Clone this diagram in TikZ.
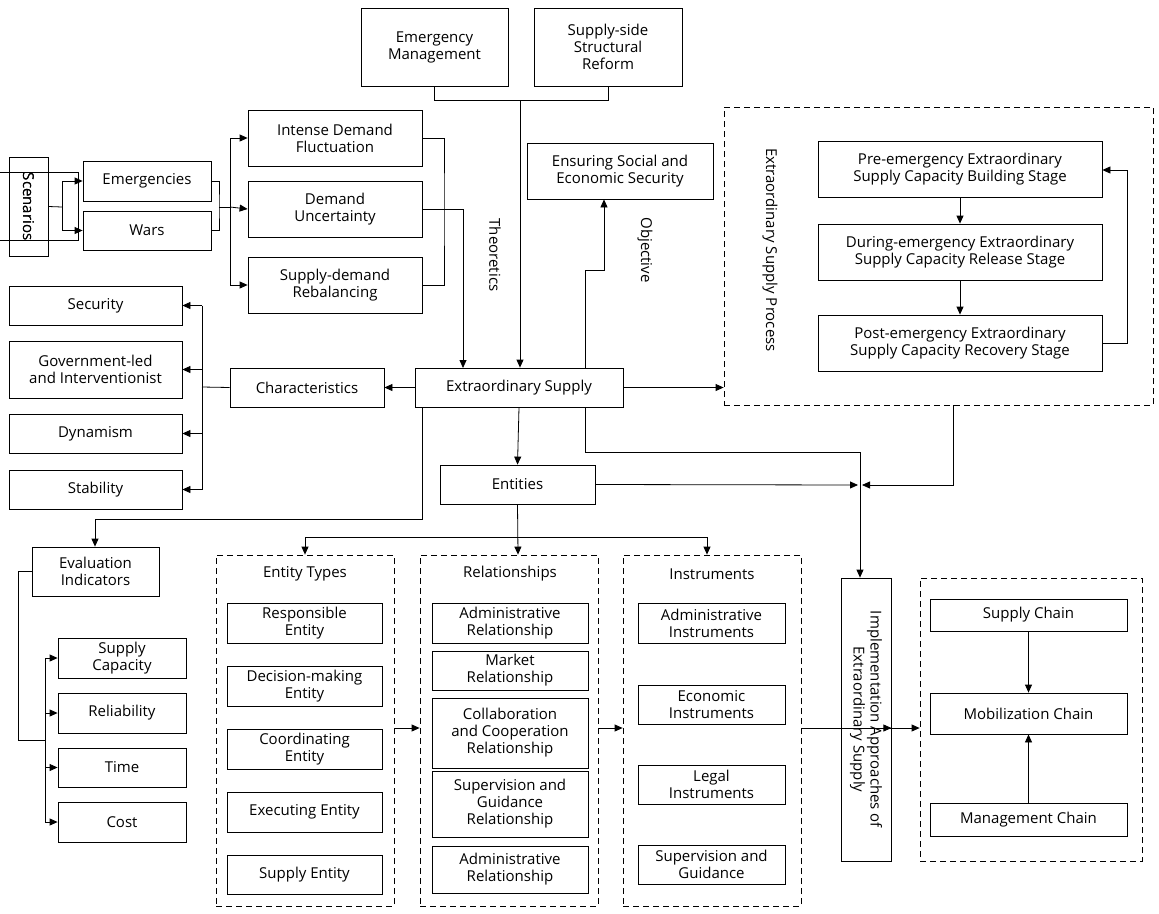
\documentclass[tikz,border=0pt]{standalone}
\usepackage{fontspec}
\setmainfont{Open Sans}
\usetikzlibrary{arrows.meta}
\begin{document}
\begin{tikzpicture}[x=1pt,y=-1pt,
  box/.style={draw,thick,inner sep=0pt,align=center,font=\fontsize{15}{17}\selectfont},
  dbox/.style={draw,thick,dashed,dash pattern=on 6pt off 4pt,inner sep=0pt},
  lab/.style={inner sep=0pt,font=\fontsize{15}{17}\selectfont,align=center},
  arr/.style={thick,-{Triangle[length=8pt,width=7pt]}},
  ln/.style={thick}]
\useasboundingbox (0,0) rectangle (1159,913);
\newcommand\bx[7][]{\node[box,#1,minimum width={(#5-#3)*1pt},minimum height={(#6-#4)*1pt}] (#2) at ({(#3+#5)/2},{(#4+#6)/2}) {#7};}
\newcommand\dbx[5]{\node[dbox,minimum width={(#4-#2)*1pt},minimum height={(#5-#3)*1pt}] (#1) at ({(#2+#4)/2},{(#3+#5)/2}) {};}
% top
\bx{EM}{361}{8}{508}{86}{Emergency\\Management}
\bx{SSR}{534}{8}{682}{86}{Supply-side\\Structural\\Reform}
\bx[rotate=-90]{SC}{9}{157}{48}{256}{Scenarios}
\node[box,rotate=-90,minimum width=99pt,minimum height=39pt] (SC) at (28.5,206.5) {Scenarios};
\bx{EMG}{83}{161}{211}{201}{Emergencies}
\bx{WAR}{83}{211}{211}{250}{Wars}
\bx{IDF}{248}{110}{422}{166}{Intense Demand\\Fluctuation}
\bx{DU}{248}{181}{422}{237}{Demand\\Uncertainty}
\bx{SDR}{248}{257}{422}{313}{Supply-demand\\Rebalancing}
\bx{ENS}{527}{143}{713}{199}{Ensuring Social and\\Economic Security}
\bx{ES}{415}{368}{623}{407}{Extraordinary Supply}
\bx{CH}{230}{368}{384}{407}{Characteristics}
\bx{SEC}{9}{286}{182}{325}{Security}
\bx{GOV}{9}{341}{182}{398}{Government-led\\and Interventionist}
\bx{DYN}{9}{414}{182}{453}{Dynamism}
\bx{STA}{9}{470}{182}{509}{Stability}
% process
\dbx{PROC}{724}{107}{1153}{405}
\node[lab,rotate=-90] (PL) at (770,250) {Extraordinary Supply Process};
\bx{PRE}{818}{141}{1102}{197}{Pre-emergency Extraordinary\\Supply Capacity Building Stage}
\bx{DUR}{818}{224}{1102}{280}{During-emergency Extraordinary\\Supply Capacity Release Stage}
\bx{POST}{818}{315}{1102}{371}{Post-emergency Extraordinary\\Supply Capacity Recovery Stage}
\bx{ENT}{440}{465}{595}{504}{Entities}
\bx{EVI}{32}{547}{159}{596}{Evaluation\\Indicators}
\bx{SCAP}{58}{638}{186}{678}{Supply\\Capacity}
\bx{REL}{58}{693}{186}{733}{Reliability}
\bx{TIM}{58}{748}{186}{787}{Time}
\bx{COS}{58}{802}{186}{842}{Cost}
% entity types
\dbx{ETB}{216}{555}{394}{906}
\node[lab] at (305,574) {Entity Types};
\bx{E1}{227}{603}{382}{643}{Responsible\\Entity}
\bx{E2}{227}{666}{382}{706}{Decision-making\\Entity}
\bx{E3}{227}{729}{382}{769}{Coordinating\\Entity}
\bx{E4}{227}{792}{382}{832}{Executing Entity}
\bx{E5}{227}{855}{382}{894}{Supply Entity}
\dbx{RLB}{420}{555}{598}{906}
\node[lab] at (510,574) {Relationships};
\bx{R1}{432}{603}{588}{643}{Administrative\\Relationship}
\bx{R2}{432}{651}{588}{690}{Market\\Relationship}
\bx{R3}{432}{698}{588}{768}{Collaboration\\and Cooperation\\Relationship}
\bx{R4}{432}{771}{588}{837}{Supervision and\\Guidance\\Relationship}
\bx{R5}{432}{846}{588}{893}{Administrative\\Relationship}
\dbx{INB}{623}{555}{801}{906}
\node[lab] at (712,574) {Instruments};
\bx{I1}{638}{603}{785}{643}{Administrative\\Instruments}
\bx{I2}{638}{685}{785}{724}{Economic\\Instruments}
\bx{I3}{638}{765}{785}{804}{Legal\\Instruments}
\bx{I4}{638}{845}{785}{884}{Supervision and\\Guidance}
\node[box,rotate=-90,minimum width=283pt,minimum height=50pt] (IMP) at (866,719.5) {Implementation Approaches of\\Extraordinary Supply};
\dbx{CHB}{920}{578}{1142}{861}
\bx{SCH}{930}{599}{1127}{631}{Supply Chain}
\bx{MOB}{930}{693}{1127}{734}{Mobilization Chain}
\bx{MAN}{930}{803}{1127}{836}{Management Chain}
% connectors
\coordinate (a1) at (62,207);
\draw[ln] (SC.north) -- (a1);
\draw[arr] (a1) |- (EMG.west);
\draw[arr] (a1) |- (WAR.west);
\coordinate (b1) at (219,207);
\draw[ln] (EMG.east) -| (b1) |- (WAR.east);
\coordinate (b2) at (230,207);
\draw[ln] (b1) -- (b2);
\draw[arr] (b2) |- (IDF.west);
\draw[arr] (b2) -- (DU.west);
\draw[arr] (b2) |- (SDR.west);
\coordinate (c1) at (444,207);
\draw[ln] (IDF.east) -| (c1) |- (SDR.east);
\coordinate (c2) at (463,368);
\draw[arr] (DU.east) -| (c2);
\coordinate (d1) at (434,100); \coordinate (d2) at (608,100); \coordinate (d3) at (520,100);
\draw[ln] (EM.south -| d1) |- (d2) -- (SSR.south -| d2);
\draw[arr] (d3) -- (ES.north -| d3);
\node[lab,rotate=-90] (TH) at (495,255) {Theoretics};
\coordinate (e1) at (585,270); \coordinate (e2) at (604,270);
\draw[arr] (ES.north -| e1) -- (e1) -- (e2) -- (ENS.south -| e2);
\node[lab,rotate=-90] (OB) at (645,250) {Objective};
\draw[arr] (ES.east) -- (ES.east -| PROC.west);
\draw[arr] (ES.west) -- (CH.east);
\coordinate (f1) at (202,387);
\draw[ln] (CH.west) -- (f1);
\draw[ln] (SEC.east -| f1) -- (STA.east -| f1);
\foreach \n in {SEC,GOV,DYN,STA} \draw[arr] (\n.east -| f1) -- (\n.east);
\draw[arr] (ES.south) -- (ENT.north);
\draw[arr] (PRE.south) -- (DUR.north);
\draw[arr] (DUR.south) -- (POST.north);
\coordinate (g1) at (1127,170);
\draw[arr] (POST.east) -| (g1) -- (PRE.east |- g1);
\coordinate (h1) at (585,452); \coordinate (h2) at (860,452);
\draw[arr] (ES.south -| h1) -- (h1) -- (h2) -- (IMP.west -| h2);
\coordinate (h3) at (858,485); \coordinate (h4) at (862,485); \coordinate (h5) at (953,485);
\draw[arr] (ENT.east) -- (h3);
\draw[arr] (PROC.south -| h5) -- (h5) -- (h4);
\coordinate (k1) at (422,519); \coordinate (k2) at (95,519);
\draw[arr] (ES.south -| k1) -- (k1) -- (k2) -- (EVI.north -| k2);
\coordinate (m1) at (518,537); \coordinate (m2) at (305,537); \coordinate (m3) at (707,537);
\draw[arr] (ENT.south) -- (ETB.north -| m1);
\draw[arr] (m2) -- (m3) -- (INB.north -| m3);
\draw[arr] (m1) -- (m2) -- (ETB.north -| m2);
\coordinate (n1) at (18,740); \coordinate (n2) at (45,740);
\draw[ln] (EVI.west) -| (n1) -- (n2);
\draw[ln] (SCAP.west -| n2) -- (COS.west -| n2);
\foreach \n in {SCAP,REL,TIM,COS} \draw[arr] (\n.west -| n2) -- (\n.west);
\coordinate (p1) at (0,728);
\draw[arr] (ETB.east |- p1) -- (RLB.west |- p1);
\draw[arr] (RLB.east |- p1) -- (INB.west |- p1);
\draw[arr] (INB.east |- p1) -- (IMP.north |- p1);
\draw[arr] (IMP.south |- p1) -- (CHB.west |- p1);
\draw[arr] (SCH.south) -- (MOB.north);
\draw[arr] (MAN.north) -- (MOB.south);
\end{tikzpicture}
\end{document}
